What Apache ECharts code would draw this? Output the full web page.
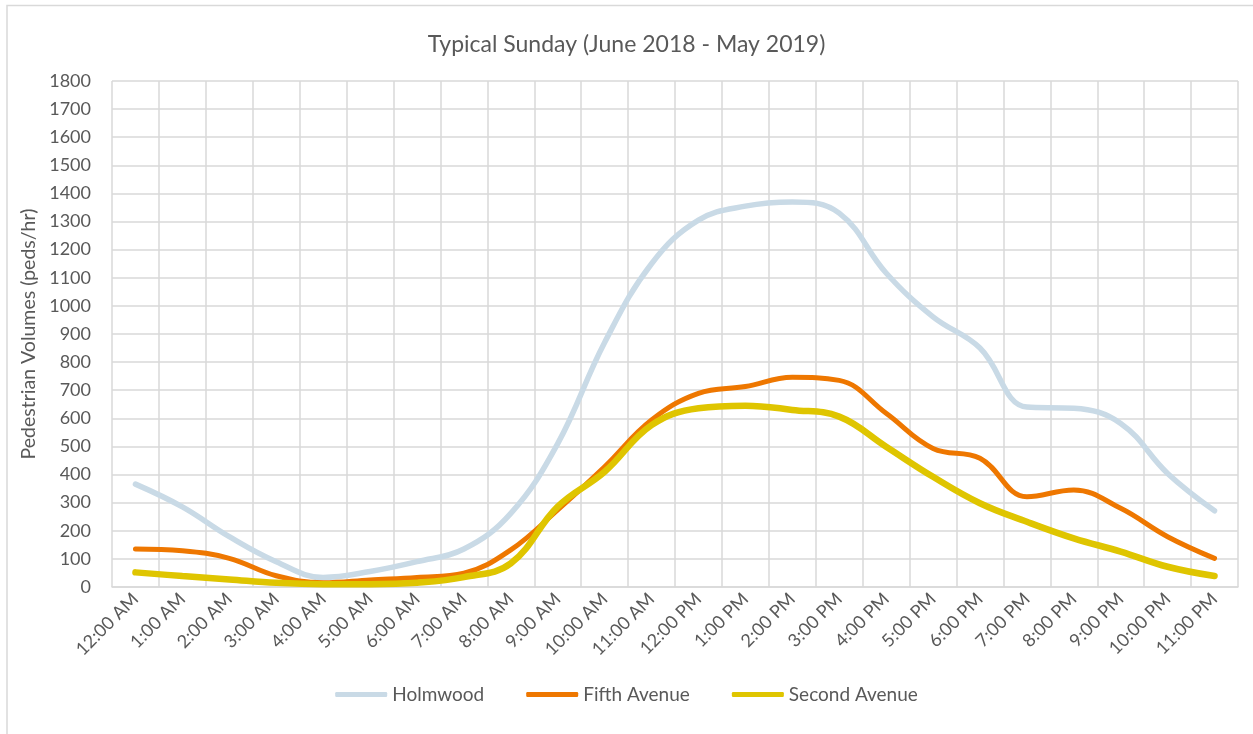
<!DOCTYPE html>
<html>
<head>
<meta charset="utf-8">
<script src="https://cdn.jsdelivr.net/npm/echarts@6/dist/echarts.min.js"></script>
<style>
  html, body { margin: 0; padding: 0; background: #fff; }
  #chart { width: 1253px; height: 734px; }
</style>
</head>
<body>
<div id="chart"></div>
<script>
const hours = [
  '12:00 AM', '1:00 AM', '2:00 AM', '3:00 AM', '4:00 AM', '5:00 AM',
  '6:00 AM', '7:00 AM', '8:00 AM', '9:00 AM', '10:00 AM', '11:00 AM',
  '12:00 PM', '1:00 PM', '2:00 PM', '3:00 PM', '4:00 PM', '5:00 PM',
  '6:00 PM', '7:00 PM', '8:00 PM', '9:00 PM', '10:00 PM', '11:00 PM',
]
const holmwood = [366, 285, 179, 90, 34, 55, 90, 135, 262, 510, 870, 1150,
  1305, 1355, 1370, 1330, 1117, 961, 850, 640, 636, 582, 404, 271]
const fifthAvenue = [135, 129, 102, 40, 15, 25, 34, 49, 132, 274, 428, 594,
  689, 713, 746, 735, 618, 493, 458, 321, 345, 280, 179, 102]
const secondAvenue = [52, 39, 27, 15, 10, 10, 15, 35, 84, 286, 410, 576,
  636, 645, 630, 606, 499, 392, 298, 232, 173, 126, 72, 39]

const TEXT = '#595959'
const GRID = '#d9d9d9'
const FONT = 'Lato, "Open Sans", sans-serif'

const chart = echarts.init(document.getElementById('chart'))

function line(name, data, color, width) {
  return {
    name,
    type: 'line',
    data,
    smooth: 0.4,
    showSymbol: false,
    symbol: 'none',
    lineStyle: { color, width, cap: 'round' },
    itemStyle: { color },
    animation: false,
  }
}

chart.setOption({
  backgroundColor: '#fff',
  textStyle: { fontFamily: FONT },
  graphic: [{
    type: 'rect',
    shape: { x: 7, y: 5.5, width: 1270, height: 760 },
    style: { fill: 'none', stroke: GRID, lineWidth: 1.5 },
    silent: true,
  }],
  title: {
    text: 'Typical Sunday (June 2018 - May 2019)',
    left: 'center',
    top: 28,
    textStyle: { color: TEXT, fontSize: 23, fontWeight: 'normal', fontFamily: FONT },
  },
  legend: {
    bottom: 25,
    left: 'center',
    icon: 'roundRect',
    itemWidth: 52,
    itemHeight: 5,
    itemGap: 42,
    textStyle: { color: TEXT, fontSize: 19, fontFamily: FONT },
    data: ['Holmwood', 'Fifth Avenue', 'Second Avenue'],
  },
  grid: { left: 112, right: 15, top: 81, bottom: 147, containLabel: false },
  xAxis: {
    type: 'category',
    data: hours,
    boundaryGap: true,
    axisLine: { lineStyle: { color: GRID, width: 1.5 } },
    axisTick: { show: false },
    splitLine: { show: true, lineStyle: { color: GRID, width: 1.5 } },
    axisLabel: { color: TEXT, fontSize: 18, rotate: 45, margin: 9, interval: 0, fontFamily: FONT },
  },
  yAxis: {
    type: 'value',
    min: 0,
    max: 1800,
    interval: 100,
    name: 'Pedestrian Volumes (peds/hr)',
    nameLocation: 'middle',
    nameGap: 71,
    nameTextStyle: { color: TEXT, fontSize: 19.5, fontFamily: FONT },
    axisLine: { show: false },
    axisTick: { show: false },
    splitLine: { lineStyle: { color: GRID, width: 1.5 } },
    axisLabel: { color: TEXT, fontSize: 18, margin: 21, fontFamily: FONT, formatter: (v) => String(v) },
  },
  series: [
    line('Holmwood', holmwood, '#c9dae6', 5.5),
    line('Fifth Avenue', fifthAvenue, '#ee7700', 5),
    line('Second Avenue', secondAvenue, '#dfc500', 6.5),
  ],
})
</script>
</body>
</html>
